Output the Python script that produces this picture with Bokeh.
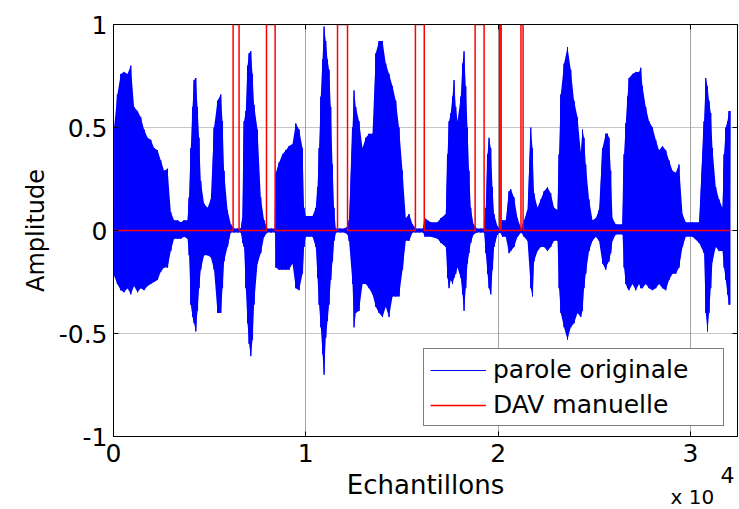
from bokeh.plotting import figure
from bokeh.models import Range1d, FixedTicker, LinearAxis, Legend, LegendItem, Label
from bokeh.embed import file_html
from bokeh.resources import INLINE

# ---- data ----
# speech envelope: sample index, upper and lower amplitude
env_x = [30, 200, 380, 550, 730, 900, 1070, 1250, 1420, 1590, 1770, 1940, 2110, 2290, 2460, 2630, 2810,
         2980, 3150, 3330, 3500, 3670, 3850, 3930, 4020, 4110, 4190, 4280, 4370, 4450, 4540, 4710, 4890,
         5060, 5230, 5410, 5580, 5670, 5750, 5930, 6100, 6270, 6450, 6620, 6710, 6790, 6880, 6970, 7050,
         7140, 7230, 7310, 7490, 7660, 7830, 8000, 8200, 8400,
         8440, 8610, 8790, 8960, 9130, 9310, 9480, 9650, 9830, 9910, 10000, 10170, 10350, 10520, 10610,
         10690, 10780, 10870, 10950, 11040, 11130, 11210, 11300, 11390, 11470, 11560, 11800, 12000, 12170,
         12250, 12430, 12510, 12600, 12770, 12950, 13120, 13290, 13470, 13640, 13810, 13990, 14160, 14330,
         14510, 14680, 14850, 15030, 15200, 15370, 15550, 15720, 15900, 16100,
         16190, 16500, 16850, 17020, 17280, 17370, 17450, 17540, 17630, 17710, 17800, 17890, 18060, 18150,
         18230, 18320, 18410, 18490, 18580, 18720, 18900, 19100, 19270, 19360, 19450, 19530, 19620, 19710,
         19790, 19970, 20100, 20230, 20400, 20570, 20660, 20830, 21010, 21200, 21350, 21530, 21700, 21790,
         21870, 22050, 22220, 22390, 22570, 22740, 22910, 23090, 23170, 23260, 23430, 23610, 23780, 23950,
         24130, 24300, 24390, 24470, 24560, 24730, 24910, 25080, 25250, 25430, 25600, 25690, 25770, 25860,
         25950, 26120, 26470, 26550, 26640, 26730, 26810, 26990, 27160, 27330, 27420, 27510, 27680, 27850,
         28030, 28200, 28370, 28550, 28720, 28890, 29070, 29240, 29410, 29590, 29760, 30110, 30450, 30710,
         30800, 30890, 30970, 31060, 31150, 31320, 31490, 31670, 31750, 31840, 31930, 32010, 32060]
env_hi = [0.50, 0.66, 0.76, 0.77, 0.76, 0.80, 0.60, 0.58, 0.55, 0.49, 0.45, 0.44, 0.40, 0.39, 0.34, 0.29, 0.30,
          0.09, 0.05, 0.05, 0.04, 0.05, 0.05, 0.16, 0.40, 0.60, 0.73, 0.74, 0.60, 0.45, 0.24, 0.13, 0.11,
          0.15, 0.50, 0.63, 0.66, 0.53, 0.29, 0.10, 0.03, 0.01, 0.01, 0.01, 0.06, 0.53, 0.58, 0.80, 0.86,
          0.87, 0.76, 0.61, 0.49, 0.16, 0.05, 0.01, 0.01, 0.01,
          0.28, 0.33, 0.37, 0.39, 0.41, 0.42, 0.52, 0.49, 0.40, 0.11, 0.07, 0.07, 0.07, 0.11, 0.21,
          0.40, 0.65, 0.83, 0.99, 0.92, 0.83, 0.78, 0.60, 0.32, 0.11, 0.01, 0.01, 0.01, 0.02,
          0.05, 0.50, 0.68, 0.60, 0.53, 0.40, 0.45, 0.47, 0.47, 0.86, 0.92, 0.92, 0.81, 0.76,
          0.70, 0.63, 0.50, 0.29, 0.06, 0.08, 0.03, 0.01, 0.01, 0.01,
          0.06, 0.04, 0.04, 0.06, 0.08, 0.37, 0.53, 0.57, 0.65, 0.73, 0.60, 0.53, 0.65, 0.81,
          0.87, 0.70, 0.50, 0.29, 0.11, 0.03, 0.01, 0.01, 0.01, 0.11, 0.37, 0.45, 0.40, 0.21,
          0.08, 0.02, 0.01, 0.05, 0.05, 0.19, 0.20, 0.16, 0.06, 0.01, 0.05, 0.10, 0.50, 0.40,
          0.18, 0.11, 0.15, 0.19, 0.21, 0.18, 0.11, 0.10, 0.37, 0.66, 0.81, 0.89, 0.78, 0.63,
          0.55, 0.38, 0.49, 0.45, 0.32, 0.15, 0.05, 0.06, 0.10, 0.40, 0.47, 0.47, 0.45, 0.29,
          0.06, 0.03, 0.03, 0.37, 0.52, 0.65, 0.74, 0.76, 0.77, 0.77, 0.79, 0.70, 0.60, 0.53,
          0.50, 0.44, 0.39, 0.41, 0.39, 0.34, 0.29, 0.28, 0.32, 0.08, 0.04, 0.04, 0.04, 0.53,
          0.74, 0.70, 0.63, 0.57, 0.40, 0.21, 0.15, 0.11, 0.37, 0.50, 0.53, 0.58, 0.58]
env_lo = [-0.22, -0.26, -0.29, -0.30, -0.28, -0.31, -0.27, -0.30, -0.28, -0.29, -0.27, -0.26, -0.25, -0.24, -0.20, -0.18, -0.18,
          -0.10, -0.04, -0.04, -0.04, -0.03, -0.04, -0.12, -0.36, -0.42, -0.45, -0.49, -0.39, -0.28, -0.19, -0.12, -0.12,
          -0.13, -0.19, -0.40, -0.40, -0.28, -0.15, -0.08, -0.01, -0.01, -0.01, -0.01, -0.06, -0.08, -0.28, -0.45, -0.55,
          -0.61, -0.53, -0.36, -0.16, -0.11, -0.03, -0.01, -0.01, -0.01,
          -0.18, -0.19, -0.19, -0.19, -0.19, -0.16, -0.28, -0.29, -0.21, -0.08, -0.03, -0.03, -0.03, -0.08, -0.23,
          -0.36, -0.47, -0.60, -0.70, -0.52, -0.44, -0.36, -0.24, -0.15, -0.05, -0.01, -0.01, -0.01, -0.02,
          -0.05, -0.26, -0.47, -0.40, -0.39, -0.26, -0.26, -0.28, -0.31, -0.37, -0.40, -0.42, -0.37, -0.42,
          -0.32, -0.32, -0.32, -0.19, -0.05, -0.05, -0.01, -0.01, -0.01, -0.01,
          -0.03, -0.03, -0.04, -0.06, -0.08, -0.23, -0.28, -0.24, -0.26, -0.23, -0.21, -0.18, -0.23, -0.31,
          -0.39, -0.28, -0.16, -0.11, -0.06, -0.02, -0.01, -0.01, -0.01, -0.11, -0.21, -0.28, -0.31, -0.19,
          -0.08, -0.02, -0.01, -0.03, -0.03, -0.11, -0.10, -0.08, -0.03, -0.01, -0.03, -0.05, -0.28, -0.32,
          -0.15, -0.10, -0.08, -0.08, -0.10, -0.08, -0.05, -0.05, -0.28, -0.40, -0.47, -0.53, -0.47, -0.45,
          -0.40, -0.42, -0.39, -0.28, -0.21, -0.10, -0.05, -0.03, -0.05, -0.16, -0.19, -0.16, -0.15, -0.11,
          -0.05, -0.02, -0.02, -0.18, -0.26, -0.28, -0.29, -0.26, -0.29, -0.26, -0.28, -0.28, -0.26, -0.28,
          -0.29, -0.28, -0.26, -0.28, -0.29, -0.24, -0.21, -0.21, -0.18, -0.08, -0.03, -0.03, -0.06, -0.11,
          -0.40, -0.49, -0.40, -0.28, -0.15, -0.08, -0.10, -0.10, -0.18, -0.24, -0.31, -0.36, -0.36]

# manual voice activity detection: pulse start / end samples
vad_on = [6220, 7955, 11650, 15700, 18805, 20080, 21190]
vad_off = [6530, 8405, 12170, 16160, 19273, 20160, 21300]
vad_end = 32060

x_tick_values = [0, 10000, 20000, 30000]
x_tick_labels = ["0", "1", "2", "3"]
y_tick_values = [-1, -0.5, 0, 0.5, 1]
y_tick_labels = ["-1", "-0.5", "0", "0.5", "1"]
series_names = ["parole originale", "DAV manuelle"]
x_label = "Echantillons"
y_label = "Amplitude"
x_scale_base = "x 10"
x_scale_exp = "4"

# ---- build figure ----
FONT = "DejaVu Sans"
p = figure(width=739, height=509, x_range=Range1d(0, 32450), y_range=Range1d(-1, 1),
           output_backend="svg", toolbar_location=None,
           min_border_left=113, min_border_right=2, min_border_top=24, min_border_bottom=73,
           background_fill_color="white", border_fill_color="white")

# waveform: filled envelope plus a zig-zag trace through it
wx, wy = [], []
for xi, hi, lo in zip(env_x, env_hi, env_lo):
    wx.extend([xi, xi])
    wy.extend([hi, lo])

p.varea(x=env_x, y1=env_lo, y2=env_hi, fill_color="#0000ff", fill_alpha=1.0)
wave = p.line(wx, wy, line_color="#0000ff", line_width=1)

# VAD step signal
vx, vy = [0], [0]
for a, b in zip(vad_on, vad_off):
    vx.extend([a, a, b, b])
    vy.extend([0, 1, 1, 0])
vx.append(vad_end)
vy.append(0)
vad = p.line(vx, vy, line_color="#ff0000", line_width=1.5)

xt = FixedTicker(ticks=x_tick_values)
yt = FixedTicker(ticks=y_tick_values)

xa = p.xaxis[0]
xa.ticker = xt
xa.major_label_overrides = dict(zip(x_tick_values, x_tick_labels))
xa.axis_label = x_label
xa.axis_label_text_font_size = "26px"
xa.axis_label_standoff = 5
xa.major_label_standoff = 7

ya = p.yaxis[0]
ya.ticker = yt
ya.major_label_overrides = dict(zip(y_tick_values, y_tick_labels))
ya.axis_label = y_label
ya.axis_label_text_font_size = "24px"
ya.axis_label_standoff = 6
ya.major_label_standoff = 6

for ax in (xa, ya):
    ax.major_label_text_font = FONT
    ax.major_label_text_font_size = "25px"
    ax.major_label_text_color = "black"
    ax.axis_label_text_font = FONT
    ax.axis_label_text_font_style = "normal"
    ax.axis_label_text_color = "black"

# mirrored tick marks on the right and top sides (no labels)
right = LinearAxis(ticker=yt)
top = LinearAxis(ticker=xt)
for ax in (right, top):
    ax.major_label_text_color = None
    ax.major_label_text_font_size = "0px"
    ax.major_label_standoff = 0
p.add_layout(right, "right")
p.add_layout(top, "above")

for ax in (xa, ya, right, top):
    ax.major_tick_in = 5
    ax.major_tick_out = 0
    ax.minor_tick_line_color = None
    ax.axis_line_color = "black"
    ax.major_tick_line_color = "black"

p.xgrid.ticker = xt
p.ygrid.ticker = yt
p.xgrid.grid_line_color = "#a6a6a6"
p.ygrid.grid_line_color = "#8c8c8c"
p.ygrid.grid_line_dash = "1 1"
p.outline_line_color = "black"
p.outline_line_width = 1

legend = Legend(items=[LegendItem(label=series_names[0], renderers=[wave]),
                       LegendItem(label=series_names[1], renderers=[vad])],
                location=(310, 10))
legend.label_text_font = FONT
legend.label_text_font_size = "25px"
legend.label_text_color = "black"
legend.glyph_width = 56
legend.glyph_height = 20
legend.label_standoff = 7
legend.padding = 6
legend.spacing = 6
legend.label_width = 224
legend.label_height = 28
legend.margin = 0
legend.border_line_color = "black"
legend.border_line_width = 1
legend.background_fill_color = "white"
legend.background_fill_alpha = 1
p.add_layout(legend)

# "x 10^4" multiplier under the right end of the x axis.  Side-panel labels are not
# clipped to the frame.
lab_base = Label(x=557, y=-472, x_units="screen", y_units="screen", text=x_scale_base,
                 text_font=FONT, text_font_size="20px", text_baseline="middle", text_color="black",
                 text_line_height=0.2)
p.add_layout(lab_base, "above")
lab_exp = Label(x=716, y=-38, x_units="screen", y_units="screen", text=x_scale_exp,
                text_font=FONT, text_font_size="22px", text_baseline="middle", text_color="black")
p.add_layout(lab_exp, "left")

open("out.html", "w").write(file_html(p, INLINE))
